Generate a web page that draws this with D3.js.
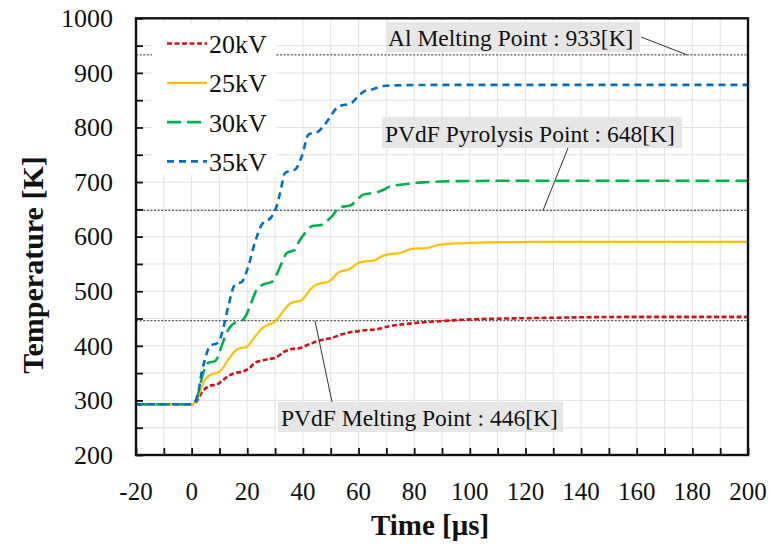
<!DOCTYPE html>
<html><head><meta charset="utf-8">
<script src="https://cdn.jsdelivr.net/npm/d3@7"></script>
<style>body{margin:0;background:#fff}svg{display:block}</style>
</head><body><svg id="c" width="770" height="544"></svg>
<script>
// ---------- data ----------
const xTicks = [-20,0,20,40,60,80,100,120,140,160,180,200];
const yTicks = [200,300,400,500,600,700,800,900,1000];
const seriesNames = ["20kV","25kV","30kV","35kV"];
const seriesColors = ["#d0121b","#ffc000","#00b050","#0070c0"];

const time20 = [-20,0,1,2,3.6,5,6.6,9,10.5,13.2,15.5,18.5,20.5,22.8,25,28,30,33.6,36,39,41,45.5,48,50,54,57,60,63,66,71,77,83,89,95,101,113,125,143,160,200];
const temp20 = [293,293,294,300,314,322,327,329,334,345,350,353,358,369,373,376,378,390,394,396,400,409,412,414,421,425,427,429,430,436,440,443,445,447,448.5,450,451,452.5,453,453];

const time25 = [-20,0,1,2.4,4,5,7.2,9.6,11,13.2,15.5,17,19.8,21.5,23.4,25.5,27,29.4,31,33,35,36.5,39,41,42.6,44.5,46,49,51,52.7,55,56.5,58.5,60.5,63,65.3,68,70,73,75,78,80,84.5,89.3,95,100,113,130,200];
const temp25 = [293,293,295,308,330,339,348,351,358,375,390,395,398,408,421,433,437.5,442.5,450,464,476,480,482,492,503,511,514,517,525,534,538,540,547,553,555,556,563,567,569,570,576,578,579,585.5,587.5,588.5,590,590.5,590.5];

const time30 = [-20,0,1,2.4,4.2,6,8.4,9.5,10.8,13.2,15.6,18,19.5,21,23.4,25.8,28.8,30.5,32.4,34.2,37.2,38.5,40.8,43.2,46.8,48.5,50.4,53.3,57,59,61.7,66.5,69,71.3,77.3,83.3,89.3,101,120,200];
const temp30 = [293,293,295,314,351,369,372,380,400,430,442.5,446,455,473,503,512.5,517,530,552,570,576,590,607,619,622,628,637,654,657,665,677,681,686,692,696.5,699.5,701,702,702.5,702.5];

const time35 = [-20,0,1,2.4,3.6,4.8,6.6,9.6,11.4,13.2,15.6,18,20.4,22.8,25.2,28.8,30.5,31.8,33.6,37.2,39.6,42,45.6,47.5,49.1,52.7,57.5,60,62.3,65,68.9,76,90,200];
const temp35 = [293,293,296,314,351,375,400,406,433,473,512.5,517,546,590,622,637,655,680,717,723,747,787,793,803,814,838,845,858,867,870,876,877.5,878,878];

const refValues = [933,648,446];
const refLabels = ["Al Melting Point : 933[K]","PVdF Pyrolysis Point : 648[K]","PVdF Melting Point : 446[K]"];

// ---------- layout ----------
const FONT = '"Liberation Serif", serif';
const svg = d3.select("#c");
const L=136,R=748,T=18.3,B=455;
const x = d3.scaleLinear().domain([-20,200]).range([L,R]);
const y = d3.scaleLinear().domain([200,1000]).range([B,T]);

function txt(sel){ return sel.style("font-family",FONT).attr("fill","#111"); }

// grid
const g = svg.append("g");
g.selectAll(".vg").data(d3.range(-10,200,10)).join("line")
  .attr("x1",d=>x(d)).attr("x2",d=>x(d)).attr("y1",T).attr("y2",B)
  .attr("stroke","#e2e2e2").attr("stroke-width",1);
g.selectAll(".hg").data(d3.range(250,1000,50)).join("line")
  .attr("x1",L).attr("x2",R).attr("y1",d=>y(d)).attr("y2",d=>y(d))
  .attr("stroke","#e2e2e2").attr("stroke-width",1);

// reference lines
g.selectAll(".ref").data(refValues).join("line")
  .attr("x1",L).attr("x2",R).attr("y1",d=>y(d)).attr("y2",d=>y(d))
  .attr("stroke","#555").attr("stroke-width",1.3).attr("stroke-dasharray","2,1.6");

// clip
svg.append("clipPath").attr("id","clip").append("rect")
  .attr("x",L).attr("y",T).attr("width",R-L).attr("height",B-T);

const series = [
  {name:seriesNames[0],color:seriesColors[0],t:time20,v:temp20,dash:"5,2.5",w:2.6},
  {name:seriesNames[1],color:seriesColors[1],t:time25,v:temp25,dash:null,w:2.2},
  {name:seriesNames[2],color:seriesColors[2],t:time30,v:temp30,dash:"14,6",w:2.6},
  {name:seriesNames[3],color:seriesColors[3],t:time35,v:temp35,dash:"7,5",w:2.6}
];
const line = d3.line().x(d=>x(d[0])).y(d=>y(d[1])).curve(d3.curveMonotoneX);
const lg = svg.append("g").attr("clip-path","url(#clip)");
series.forEach(s=>{
  lg.append("path").datum(s.t.map((t,i)=>[t,s.v[i]]))
    .attr("d",line).attr("fill","none").attr("stroke",s.color)
    .attr("stroke-width",s.w).attr("stroke-dasharray",s.dash);
});

// legend
const leg = svg.append("g");
leg.append("rect").attr("x",152).attr("y",23).attr("width",124).attr("height",152).attr("fill","#fff");
series.forEach((s,i)=>{
  const yy = 43.5 + i*39.3;
  leg.append("line").attr("x1",167).attr("x2",207).attr("y1",yy).attr("y2",yy)
    .attr("stroke",s.color).attr("stroke-width",s.w).attr("stroke-dasharray",s.dash);
  txt(leg.append("text")).attr("x",209).attr("y",yy+9.5).attr("font-size",26).text(s.name);
});

// annotations
const ann = [
  {box:[386,22,254,30],tx:388,ty:46,lx1:641,ly1:37,lx2:687,ref:refValues[0],label:refLabels[0]},
  {box:[382,117,300,31],tx:385,ty:142,lx1:568,ly1:148,lx2:543,ref:refValues[1],label:refLabels[1]},
  {box:[278,402,285,30],tx:281,ty:426,lx1:332,ly1:402,lx2:315,ref:refValues[2],label:refLabels[2]}
];
ann.forEach(a=>{
  svg.append("line").attr("x1",a.lx1).attr("y1",a.ly1).attr("x2",a.lx2).attr("y2",y(a.ref))
    .attr("stroke","#333").attr("stroke-width",1);
  svg.append("rect").attr("x",a.box[0]).attr("y",a.box[1]).attr("width",a.box[2]).attr("height",a.box[3]).attr("fill","#e6e6e6");
  txt(svg.append("text")).attr("x",a.tx).attr("y",a.ty).attr("font-size",23.5).text(a.label);
});

// axes
const xAxis = d3.axisBottom(x).tickValues(d3.range(-20,201,10)).tickSize(-7).tickFormat("");
const yAxis = d3.axisLeft(y).tickValues(d3.range(200,1001,50)).tickSize(-7).tickFormat("");
svg.append("g").attr("transform",`translate(0,${B})`).call(xAxis)
  .call(a=>{a.select(".domain").remove();a.selectAll("line").attr("stroke","#111").attr("stroke-width",1.8);});
svg.append("g").attr("transform",`translate(${L},0)`).call(yAxis)
  .call(a=>{a.select(".domain").remove();a.selectAll("line").attr("stroke","#111").attr("stroke-width",1.8);});
svg.append("rect").attr("x",L).attr("y",T).attr("width",R-L).attr("height",B-T)
  .attr("fill","none").attr("stroke","#111").attr("stroke-width",2.4);

txt(svg.selectAll(".xl").data(xTicks).join("text"))
  .attr("x",d=>x(d)).attr("y",500).attr("text-anchor","middle").attr("font-size",25).text(d=>d);
txt(svg.selectAll(".yl").data(yTicks).join("text"))
  .attr("x",113).attr("y",d=>y(d)).attr("dy","0.34em").attr("text-anchor","end").attr("font-size",26).text(d=>d);

txt(svg.append("text")).attr("x",430).attr("y",535).attr("text-anchor","middle")
  .attr("font-size",29).attr("font-weight","bold").text("Time [μs]");
txt(svg.append("text")).attr("transform","translate(43,265) rotate(-90)").attr("text-anchor","middle")
  .attr("font-size",30).attr("font-weight","bold").text("Temperature [K]");
</script></body></html>
